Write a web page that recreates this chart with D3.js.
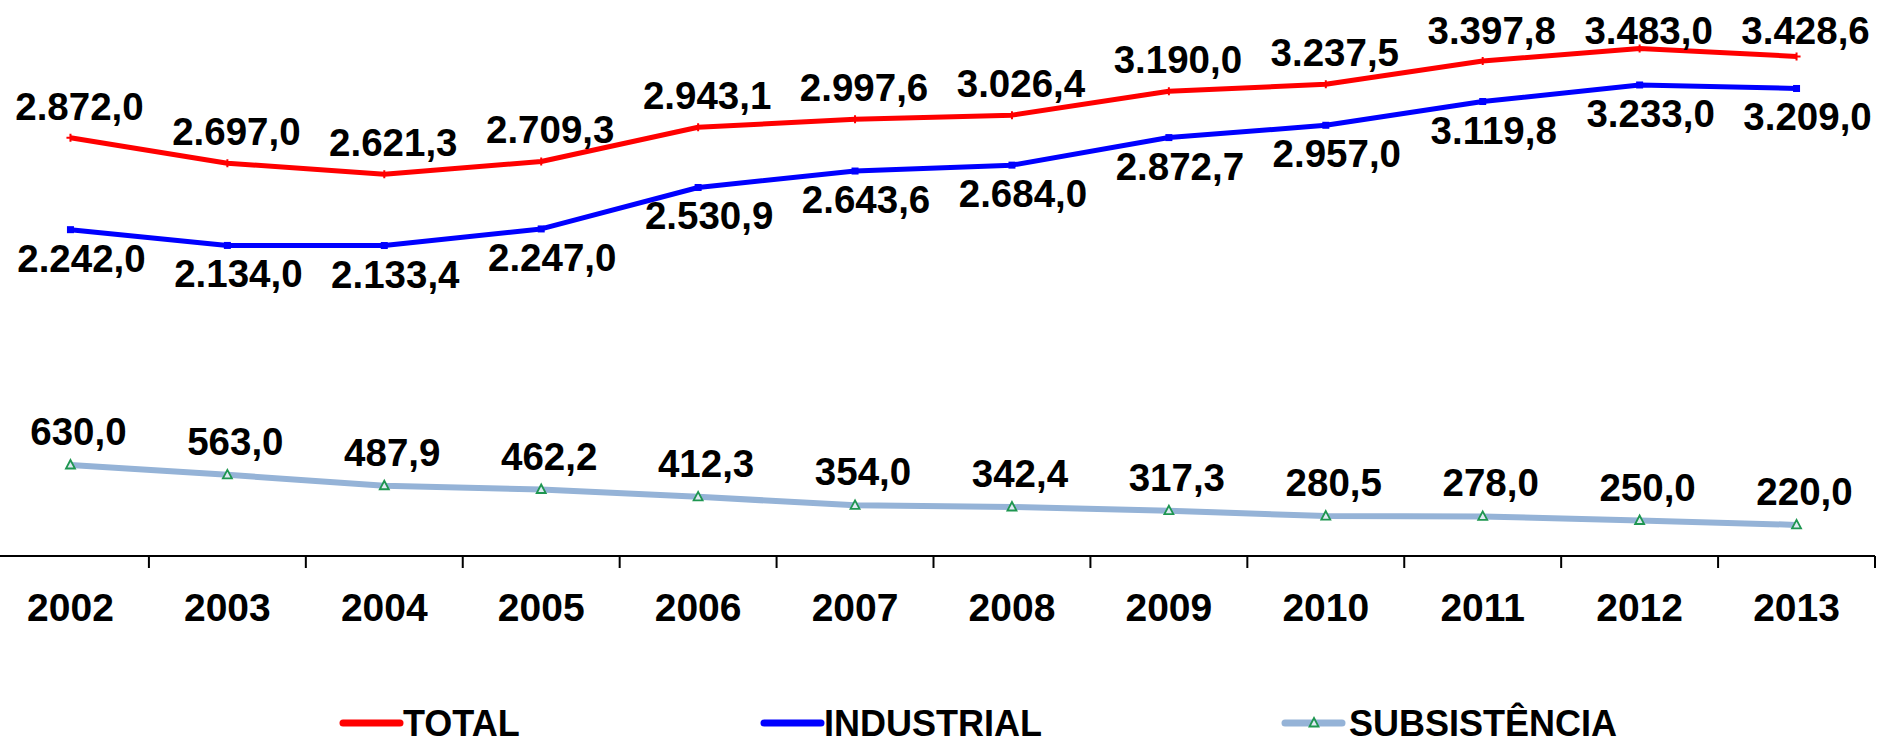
<!DOCTYPE html>
<html>
<head>
<meta charset="UTF-8">
<title>Total / Industrial / Subsistência</title>
<script src="https://d3js.org/d3.v7.min.js"></script>
<style>
  body { margin: 0; background: #fff; }
  text { font-family: "Liberation Sans", Arial, sans-serif; font-weight: bold; fill: #000; }
</style>
</head>
<body>
<script>
var years = ["2002","2003","2004","2005","2006","2007","2008","2009","2010","2011","2012","2013"];
var total = [2872.0, 2697.0, 2621.3, 2709.3, 2943.1, 2997.6, 3026.4, 3190.0, 3237.5, 3397.8, 3483.0, 3428.6];
var industrial = [2242.0, 2134.0, 2133.4, 2247.0, 2530.9, 2643.6, 2684.0, 2872.7, 2957.0, 3119.8, 3233.0, 3209.0];
var subsistencia = [630.0, 563.0, 487.9, 462.2, 412.3, 354.0, 342.4, 317.3, 280.5, 278.0, 250.0, 220.0];
var seriesNames = ["TOTAL", "INDUSTRIAL", "SUBSISTÊNCIA"];

var w = 1879, h = 741;

var ptBR = d3.formatLocale({decimal: ",", thousands: ".", grouping: [3], currency: ["R$", ""]});
var fmt = ptBR.format(",.1f");

var series = [
  {name: seriesNames[0], values: total, color: "#ff0000", width: 5, marker: "plus", dx: 9, dy: -18},
  {name: seriesNames[1], values: industrial, color: "#0000ff", width: 5, marker: "square", dx: 11, dy: 42},
  {name: seriesNames[2], values: subsistencia, color: "#95b3d7", width: 6, marker: "triangle", dx: 8, dy: -20}
];

var svg = d3.select("body").append("svg")
    .attr("width", w)
    .attr("height", h);

var x = d3.scaleBand()
    .domain(years)
    .range([-8, 1875]);

var y = d3.scaleLinear()
    .domain([0, 3500])
    .range([557, 46]);

// labels are kept inside the plot area (like Excel does)
var labelTop = 44;

// x axis
var xAxis = d3.axisBottom(x).tickSize(0).tickPadding(0).tickFormat("");
var gx = svg.append("g")
    .attr("transform", "translate(0,556)")
    .call(xAxis);
gx.select(".domain").attr("stroke", "#000").attr("stroke-width", 2).attr("d", "M0,0H1875");

// category boundary ticks
gx.selectAll("line.bound")
    .data(years)
    .enter()
    .append("line")
    .attr("class", "bound")
    .attr("x1", function(d){ return x(d) + x.bandwidth(); })
    .attr("x2", function(d){ return x(d) + x.bandwidth(); })
    .attr("y1", 0)
    .attr("y2", 12)
    .attr("stroke", "#000")
    .attr("stroke-width", 2);

svg.append("g").selectAll("text")
    .data(years)
    .enter()
    .append("text")
    .attr("x", function(d){ return x(d) + x.bandwidth() / 2; })
    .attr("y", 621)
    .attr("text-anchor", "middle")
    .style("font-size", "39px")
    .text(function(d){ return d; });

var cx = function(d, i){ return x(years[i]) + x.bandwidth() / 2; };

function drawMarker(g, type, color) {
  if (type === "plus") {
    g.append("path").attr("d", "M-4,0H4M0,-4V4").attr("stroke", color).attr("stroke-width", 2);
  } else if (type === "square") {
    g.append("rect").attr("x", -3.5).attr("y", -3.5).attr("width", 7).attr("height", 7).attr("fill", color);
  } else {
    g.append("path").attr("d", "M0,-5L4.5,3.5H-4.5Z")
        .attr("fill", "#dfe9f3").attr("stroke", "#1e9650").attr("stroke-width", 1.8);
  }
}

var line = d3.line()
    .x(cx)
    .y(function(d){ return y(d); });

series.forEach(function(s) {
  var g = svg.append("g");
  g.append("path")
      .datum(s.values)
      .attr("fill", "none")
      .attr("stroke", s.color)
      .attr("stroke-width", s.width)
      .attr("stroke-linejoin", "round")
      .attr("d", line);

  g.selectAll("g.mk")
      .data(s.values)
      .enter()
      .append("g")
      .attr("class", "mk")
      .attr("transform", function(d, i){ return "translate(" + cx(d, i) + "," + y(d) + ")"; })
      .each(function(){ drawMarker(d3.select(this), s.marker, s.color); });

  g.selectAll("text")
      .data(s.values)
      .enter()
      .append("text")
      .attr("x", function(d, i){ return cx(d, i) + s.dx; })
      .attr("y", function(d){ return Math.max(y(d) + s.dy, labelTop); })
      .attr("text-anchor", "middle")
      .style("font-size", "38.5px")
      .text(function(d){ return fmt(d); });
});

// legend
var legendX = [343, 764, 1285];
var legend = svg.append("g").selectAll("g")
    .data(series)
    .enter()
    .append("g")
    .attr("transform", function(d, i){ return "translate(" + legendX[i] + ",723)"; });

legend.append("line")
    .attr("x1", 0).attr("x2", 57)
    .attr("y1", 0).attr("y2", 0)
    .attr("stroke", function(d){ return d.color; })
    .attr("stroke-width", 7)
    .attr("stroke-linecap", "round");

legend.each(function(d){
  var m = d3.select(this).append("g").attr("transform", "translate(29,0)");
  if (d.marker === "triangle") drawMarker(m, d.marker, d.color);
});

legend.append("text")
    .attr("x", function(d, i){ return i === 2 ? 64 : 60; })
    .attr("y", 13)
    .style("font-size", "36px")
    .text(function(d){ return d.name; });
</script>
</body>
</html>
